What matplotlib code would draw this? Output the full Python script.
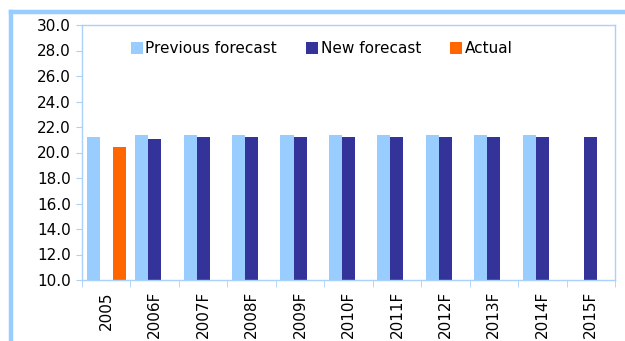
import numpy as np
import matplotlib
matplotlib.use('Agg')
import matplotlib.pyplot as plt
from matplotlib.lines import Line2D

# ── Data ─────────────────────────────────────────────────────────────────────
years = ["2005", "2006F", "2007F", "2008F", "2009F", "2010F",
         "2011F", "2012F", "2013F", "2014F", "2015F"]
previous = [21.25, 21.4, 21.4, 21.4, 21.4, 21.4, 21.4, 21.4, 21.4, 21.4, np.nan]
new = [np.nan, 21.07, 21.25, 21.25, 21.25, 21.25, 21.25, 21.25, 21.25, 21.25, 21.25]
actual = [20.47] + [np.nan] * 10

C_PREV = "#99CCFF"
C_NEW = "#333399"
C_ACT = "#FF6600"
C_AXIS = "#A9D1FA"

plt.rcParams['font.family'] = ['DejaVu Sans']

fig = plt.figure(figsize=(6.25, 3.41), dpi=100)
ax = fig.add_axes([82 / 625, 1 - 280 / 341, 533 / 625, 255 / 341])

x = np.arange(len(years))
w = 0.27
ax.bar(x - w, previous, w, color=C_PREV, label="Previous forecast", bottom=0)
ax.bar(x, new, w, color=C_NEW, label="New forecast")
ax.bar(x + w, actual, w, color=C_ACT, label="Actual")

ax.set_ylim(10, 30)
ax.set_yticks(np.arange(10, 30.1, 2))
ax.set_yticklabels([f"{v:.1f}" for v in np.arange(10, 30.1, 2)], fontsize=11)
ax.set_xlim(-0.5, len(years) - 0.5)
ax.set_xticks(x)
ax.set_xticklabels(years, rotation=90, fontsize=11)
ax.tick_params(axis='x', length=0, pad=8)
ax.set_xticks(np.arange(-0.5, len(years)), minor=True)
ax.tick_params(axis='x', which='minor', length=5, color=C_AXIS)
ax.tick_params(axis='y', length=4, color=C_AXIS, pad=4)

for s in ax.spines.values():
    s.set_color(C_AXIS)
    s.set_linewidth(1.0)

ax.legend(loc='upper left', bbox_to_anchor=(0.08, 0.96), ncol=3, frameon=False,
          fontsize=11, handlelength=0.8, handleheight=0.8, handletextpad=0.15,
          columnspacing=1.9, borderaxespad=0)

# outer chart frame (top and left edges visible)
fig.add_artist(Line2D([11 / 625, 1], [1 - 11.5 / 341, 1 - 11.5 / 341],
                      transform=fig.transFigure, color=C_PREV, lw=3.2))
fig.add_artist(Line2D([11 / 625, 11 / 625], [0, 1 - 11.5 / 341],
                      transform=fig.transFigure, color=C_PREV, lw=3.2))

fig.savefig("out.png", dpi=100)
